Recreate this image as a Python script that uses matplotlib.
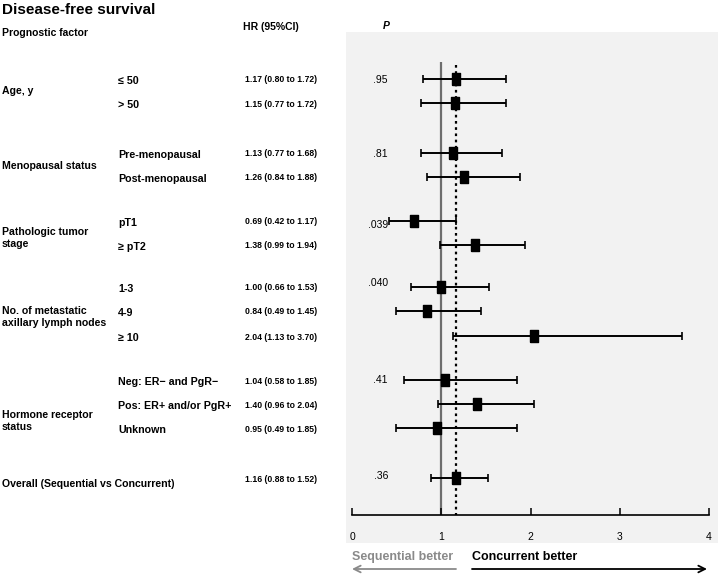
#!/usr/bin/env python3
"""Forest plot: disease-free survival by prognostic factor."""

import matplotlib

matplotlib.use("Agg")
import matplotlib.pyplot as plt
from matplotlib.patches import Rectangle

W, H = 720, 574

# --- data ------------------------------------------------------------------
groups = [
    "Age, y",
    "Menopausal status",
    "Pathologic tumor\nstage",
    "No. of metastatic\naxillary lymph nodes",
    "Hormone receptor\nstatus",
    "Overall (Sequential vs Concurrent)",
]
p_values = [".95", ".81", ".039", ".040", ".41", ".36"]
subgroups = [
    "≤ 50", "> 50",
    "Pre-menopausal", "Post-menopausal",
    "pT1", "≥ pT2",
    "1-3", "4-9", "≥ 10",
    "Neg: ER− and PgR−", "Pos: ER+ and/or PgR+", "Unknown",
    "",
]
hr = [1.17, 1.15, 1.13, 1.26, 0.69, 1.38, 1.00, 0.84, 2.04, 1.04, 1.40, 0.95, 1.16]
ci_low = [0.80, 0.77, 0.77, 0.84, 0.42, 0.99, 0.66, 0.49, 1.13, 0.58, 0.96, 0.49, 0.88]
ci_high = [1.72, 1.72, 1.68, 1.88, 1.17, 1.94, 1.53, 1.45, 3.70, 1.85, 2.04, 1.85, 1.52]
x_ticks = [0, 1, 2, 3, 4]

# --- layout (pixel rows, top-down) -----------------------------------------
row_y = [79, 103, 153, 177, 221, 245, 287, 311, 336, 380, 404, 428, 478]
group_y = [91, 166, 238, 317, 421, 484]
p_y = [80, 154, 225, 283, 380, 476]

plt.rcParams["font.family"] = ["Liberation Sans", "DejaVu Sans"]

# slightly tall box marker, as in the original
BOX = [(-0.36, -0.5), (0.36, -0.5), (0.36, 0.5), (-0.36, 0.5), (-0.36, -0.5)]


def fx(x):
    return x / W


def fy(y):
    return 1 - y / H


def main():
    fig = plt.figure(figsize=(W / 100, H / 100), dpi=100)

    # gray panel behind the plot
    fig.patches.append(
        Rectangle((fx(346), fy(543)), fx(718) - fx(346), fy(32) - fy(543),
                  transform=fig.transFigure, facecolor="#f2f2f2",
                  edgecolor="none", zorder=-5)
    )

    ax = fig.add_axes([fx(352), fy(515), fx(709) - fx(352), fy(32) - fy(515)])
    ax.set_facecolor("none")
    ax.set_xlim(0, 4)
    ax.set_ylim(515, 32)
    for side in ("top", "left", "right"):
        ax.spines[side].set_visible(False)
    ax.spines["bottom"].set_linewidth(1.2)
    ax.set_yticks([])
    ax.set_xticks(x_ticks)
    ax.set_xticklabels([str(t) for t in x_ticks],
                       family=["Liberation Sans Narrow", "Liberation Sans"],
                       fontsize=7.5)
    ax.tick_params(axis="x", direction="in", length=5, width=1.1, pad=12)

    ax.vlines(1, 62, 515, color="#6e6e6e", linewidth=1.6, zorder=1)
    ax.vlines(hr[-1], 65, 515, color="black", linewidth=1.6,
              linestyles=(0, (1.2, 1.6)), zorder=1)

    xerr = [[h - lo for h, lo in zip(hr, ci_low)],
            [hi - h for h, hi in zip(hr, ci_high)]]
    ax.errorbar(hr, row_y, xerr=xerr, fmt="none", ecolor="black",
                elinewidth=1.4, capsize=2.6, capthick=1.2, zorder=3)
    ax.plot(hr, row_y, linestyle="none", marker=BOX, ms=8.2, color="black",
            zorder=4)

    # header texts
    fig.text(fx(2), fy(10), "Disease-free survival", fontsize=11,
             fontweight="bold", va="center")
    fig.text(fx(2), fy(33), "Prognostic factor", fontsize=7.5,
             fontweight="bold", va="center")
    fig.text(fx(243), fy(27), "HR (95%CI)", fontsize=7.5,
             fontweight="bold", va="center")
    fig.text(fx(383), fy(26), "P", fontsize=7.5, fontweight="bold",
             fontstyle="italic", va="center")

    for label, y in zip(groups, group_y):
        fig.text(fx(2), fy(y), label, fontsize=7.6, fontweight="bold",
                 va="center", linespacing=1.15)
    for p, y in zip(p_values, p_y):
        fig.text(fx(388), fy(y), p, fontsize=7.5, ha="right", va="center")
    for label, h, lo, hi, y in zip(subgroups, hr, ci_low, ci_high, row_y):
        if label:
            fig.text(fx(118), fy(y + 2), label, fontsize=7.7,
                     fontweight="bold", va="center")
        fig.text(fx(245), fy(y + 1), f"{h:.2f} ({lo:.2f} to {hi:.2f})",
                 fontsize=6.2, fontweight="bold", va="center")

    # direction arrows
    fig.text(fx(352), fy(557), "Sequential better", fontsize=9,
             fontweight="bold", color="#8a8a8a", va="center")
    fig.text(fx(472), fy(557), "Concurrent better", fontsize=9,
             fontweight="bold", color="black", va="center")
    ax.annotate("", xy=(fx(352), fy(569)), xytext=(fx(456), fy(569)),
                xycoords="figure fraction", textcoords="figure fraction",
                arrowprops=dict(arrowstyle="->", color="#8a8a8a", lw=1.3,
                                shrinkA=0, shrinkB=0, mutation_scale=12))
    ax.annotate("", xy=(fx(707), fy(569)), xytext=(fx(472), fy(569)),
                xycoords="figure fraction", textcoords="figure fraction",
                arrowprops=dict(arrowstyle="->", color="black", lw=1.3,
                                shrinkA=0, shrinkB=0, mutation_scale=12))

    fig.savefig("out.png", dpi=100)


if __name__ == "__main__":
    main()
